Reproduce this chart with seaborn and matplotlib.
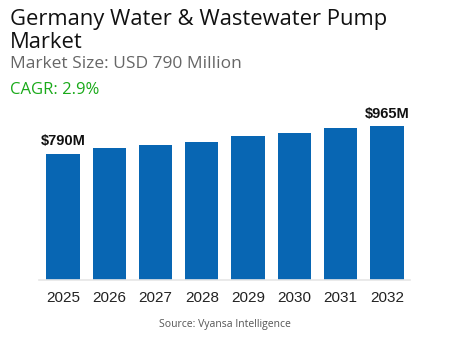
import matplotlib
matplotlib.use("Agg")
import matplotlib.pyplot as plt
import seaborn as sns
import pandas as pd

years = ["2025", "2026", "2027", "2028", "2029", "2030", "2031", "2032"]
values = [790, 830, 848, 867, 903, 922, 953, 965]
labels = ["$790M", "", "", "", "", "", "", "$965M"]

title = "Germany Water & Wastewater Pump\nMarket"
subtitle = "Market Size: USD 790 Million"
cagr = "CAGR: 2.9%"
source = "Source: Vyansa Intelligence"

sns.set_style("white")
plt.rcParams["font.family"] = ["Liberation Sans", "DejaVu Sans"]

df = pd.DataFrame({"year": years, "value": values})

fig = plt.figure(figsize=(4.5, 3.5), dpi=100)
ax = fig.add_axes([39/450, 1-279.5/350, (410-39)/450, 170/350])
sns.barplot(data=df, x="year", y="value", color="#0866b3", width=0.72,
            saturation=1, ax=ax, edgecolor="none")
ax.set_ylim(0, 1070)
ax.set_xlim(-0.52, 7.5)
for s in ["top", "right", "left"]:
    ax.spines[s].set_visible(False)
ax.spines["bottom"].set_color("#e6e6e6")
ax.spines["bottom"].set_linewidth(1.2)
ax.set_yticks([])
ax.set_xlabel("")
ax.set_ylabel("")
ax.tick_params(axis="x", length=0, pad=8, labelsize=11, labelcolor="#222222")

for i, (v, lab) in enumerate(zip(values, labels)):
    if lab:
        ax.text(i, v + 35, lab, ha="center", va="bottom", fontsize=10.5,
                fontweight="bold", color="#111111")

fig.text(10/450, 1-9/350, title, ha="left", va="top", fontsize=15.8,
         family="Open Sans", color="#111111", linespacing=1.15)
fig.text(10/450, 1-64/350, subtitle, ha="left", va="center", fontsize=12.5,
         family="Open Sans", color="#666666")
fig.text(10/450, 1-90/350, cagr, ha="left", va="center", fontsize=12,
         family="Open Sans", color="#1aaa1a")
fig.text(225/450, 1-324/350, source, ha="center", va="center", fontsize=7.5,
         family="Open Sans", color="#555555")

fig.savefig("out.png", dpi=100)
